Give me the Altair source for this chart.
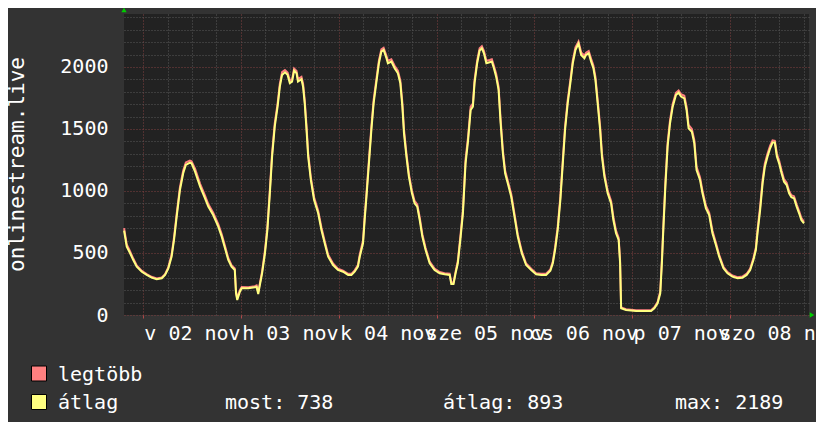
import altair as alt
import pandas as pd

# ---------------- data (hours since 2 Nov 00:00) ----------------
hours = [
    -4.65, -4.0, -3.2, -2.4, -1.55, -0.3, 0.9, 2.1, 3.35, 4.6, 5.4, 6.2, 7.0, 7.6, 8.25, 9.05,
    9.85, 10.5, 11.5, 11.9, 12.75, 14.0, 15.2, 16.0, 17.2, 18.45, 19.3, 20.1, 20.9, 21.7, 22.5,
    22.8, 23.1, 23.75, 24.2, 25.8, 27.4, 27.85, 28.25, 28.65, 29.2, 29.9, 30.5, 31.1, 31.65,
    32.3, 33.0, 33.55, 34.1, 34.8, 35.45, 36.0, 36.55, 37.05, 37.65, 38.0, 38.85, 39.25, 39.65,
    40.1, 40.5, 41.15, 41.95, 42.95, 43.75, 44.55, 45.4, 46.6, 47.8, 49.05, 50.3, 51.1, 51.9,
    52.7, 53.15, 53.95, 54.35, 54.8, 55.4, 56.0, 56.55, 57.2, 57.85, 58.45, 59.0, 59.7, 60.05,
    60.9, 61.7, 62.5, 63.1, 63.6, 64.0, 64.6, 65.2, 65.95, 66.6, 67.25, 67.85, 68.5, 69.3,
    70.3, 71.5, 72.75, 73.95, 75.2, 75.6, 76.15, 76.65, 77.2, 77.9, 78.45, 79.1, 79.7, 80.35,
    80.9, 81.3, 81.95, 82.55, 83.1, 83.6, 84.2, 85.0, 85.55, 86.05, 86.6, 87.2, 87.7, 88.25,
    88.8, 89.45, 90.3, 91.1, 91.9, 92.9, 93.95, 95.2, 96.4, 97.65, 98.85, 99.9, 100.5, 101.05,
    101.7, 102.35, 102.95, 103.5, 104.15, 104.8, 105.4, 106.05, 106.8, 107.45, 108.25, 108.65,
    109.3, 109.9, 110.45, 110.95, 111.5, 112.1, 112.55, 113.15, 113.95, 114.8, 115.35, 116.0,
    116.65, 117.0, 117.25, 118.45, 120.9, 124.6, 125.4, 126.2, 126.85, 127.25, 127.6, 128.1,
    128.65, 129.25, 129.9, 130.7, 131.35, 131.95, 132.75, 133.3, 133.8, 134.6, 135.2, 135.75,
    136.6, 137.2, 138.05, 138.85, 139.65, 140.5, 141.3, 142.35, 143.35, 144.55, 145.8, 147.0,
    148.05, 148.9, 149.7, 150.3, 150.7, 151.35, 151.95, 152.5, 153.15, 153.8, 154.4, 154.95,
    155.45, 156.0, 156.6, 157.2, 157.85, 158.45, 159.0, 159.65, 160.3, 160.9, 161.45, 162.1,
]

avg_vals = [
    680, 551, 500, 443, 390, 349, 323, 301, 288, 296, 323, 376, 470, 605, 793, 1008,
    1143, 1210, 1228, 1223, 1156, 1035, 941, 874, 806, 712, 632, 538, 444, 390, 363,
    177, 121, 188, 215, 215, 223, 228, 169, 242, 336, 497, 686, 981, 1277,
    1519, 1680, 1841, 1936, 1957, 1936, 1869, 1882, 1970, 1949, 1882, 1901, 1841, 1707,
    1492, 1277, 1089, 927, 820, 686, 578, 470, 403, 363, 349, 323, 323, 349,
    390, 470, 578, 766, 954, 1223, 1492, 1707, 1869, 2030, 2124, 2137, 2070, 2030,
    2043, 1990, 1949, 1869, 1680, 1465, 1277, 1115, 981, 900, 874, 766, 632, 524,
    417, 363, 336, 328, 323, 250, 250, 336, 417, 632, 820, 1223, 1400, 1653,
    1680, 1869, 2030, 2132, 2151, 2110, 2030, 2038, 2043, 1990, 1922, 1815, 1546, 1304,
    1143, 1062, 954, 793, 632, 497, 403, 363, 328, 323, 323, 357, 417, 524,
    686, 927, 1223, 1492, 1707, 1869, 2030, 2137, 2189, 2097, 2070, 2097,
    2110, 2043, 1990, 1895, 1707, 1492, 1277, 1115, 981, 900, 766, 659,
    605, 417, 54, 40, 32, 32, 54, 94, 175, 417, 686, 1035,
    1358, 1546, 1680, 1774, 1793, 1761, 1747, 1653, 1506, 1478, 1385, 1169,
    1089, 981, 860, 806, 659, 565, 470, 376, 336, 309, 296, 301,
    323, 363, 444, 524, 659, 847, 1062, 1196, 1277, 1344, 1390, 1390,
    1277, 1223, 1143, 1075, 1048, 981, 949, 941, 874, 820, 766, 738,
]

max_vals = [
    700, 570, 515, 455, 400, 356, 330, 308, 294, 302, 330, 386, 485, 625, 815, 1030,
    1165, 1230, 1245, 1240, 1180, 1058, 962, 895, 825, 732, 650, 556, 460, 402, 375,
    190, 135, 200, 225, 224, 232, 238, 185, 255, 352, 520, 712, 1010, 1305,
    1545, 1705, 1865, 1958, 1975, 1955, 1890, 1900, 1988, 1968, 1902, 1920, 1865, 1735,
    1522, 1305, 1112, 950, 840, 706, 596, 486, 415, 374, 358, 332, 332, 360,
    402, 488, 600, 792, 982, 1252, 1520, 1733, 1893, 2052, 2142, 2155, 2090, 2050,
    2062, 2010, 1970, 1892, 1710, 1495, 1302, 1138, 1002, 920, 892, 788, 652, 540,
    430, 374, 346, 337, 333, 265, 262, 350, 435, 658, 848, 1255, 1430, 1680,
    1705, 1892, 2052, 2150, 2168, 2130, 2050, 2056, 2062, 2010, 1945, 1840, 1575, 1330,
    1165, 1082, 975, 815, 652, 513, 415, 373, 337, 332, 333, 368, 432, 545,
    712, 955, 1252, 1520, 1733, 1893, 2052, 2158, 2205, 2118, 2090, 2115,
    2128, 2065, 2012, 1920, 1735, 1522, 1305, 1140, 1003, 920, 790, 680,
    622, 440, 62, 46, 38, 38, 62, 105, 192, 445, 715, 1065,
    1388, 1572, 1702, 1792, 1810, 1780, 1768, 1680, 1532, 1500, 1410, 1195,
    1110, 1003, 882, 825, 680, 582, 485, 388, 346, 318, 305, 310,
    333, 375, 460, 545, 685, 875, 1090, 1222, 1300, 1365, 1408, 1405,
    1300, 1245, 1165, 1095, 1066, 1000, 966, 958, 893, 838, 783, 752,
]

series_names = ["legtöbb", "átlag"]
series_colors = ["#FF8080", "#FFFF80"]
day_labels = ["v 02 nov", "h 03 nov", "k 04 nov", "sze 05 nov", "cs 06 nov", "p 07 nov", "szo 08 nov"]
stat_names = ["most", "átlag", "max"]
stat_values = [738, 893, 2189]
y_title = "onlinestream.live"

# ---------------- build tables ----------------
n = len(hours)
df = pd.DataFrame({
    "h": hours + hours,
    "v": max_vals + avg_vals,
    "s": [series_names[0]] * n + [series_names[1]] * n,
})
stats_df = pd.DataFrame({
    "k": stat_names,
    "label": [f"{k}: {v}" for k, v in zip(stat_names, stat_values)],
})
legend_df = pd.DataFrame({"s": series_names, "c": series_colors})

FONT = "DejaVu Sans Mono"
TXT = "#FFFFFF"
X_DOMAIN = [-4.67, 163.33]
Y_DOMAIN = [0, 2427]
PLOT_W, PLOT_H = 685, 301
MINOR = "#585858"
MAJOR = "#804040"

label_js = "[" + ",".join("'%s'" % l for l in day_labels) + "]"

x_axis = alt.Axis(
    values=list(range(0, 163, 6)),
    labelExpr=f"datum.value % 24 == 12 ? {label_js}[floor(datum.value / 24)] : ''",
    labelOverlap=False, labelBound=False, labelFlush=False,
    labelFont=FONT, labelFontSize=20, labelColor=TXT, labelPadding=5,
    grid=True, gridDash=[1, 2], gridWidth=1,
    gridColor={"condition": {"test": "datum.value % 24 == 0", "value": MAJOR}, "value": MINOR},
    ticks=True, tickSize=3,
    tickColor={"condition": {"test": "datum.value % 24 == 0", "value": "#b04848"}, "value": "rgba(0,0,0,0)"},
    domain=False, title=None,
)
y_axis = alt.Axis(
    values=list(range(0, 2401, 100)),
    labelExpr="datum.value % 500 == 0 ? datum.label : ''",
    labelOverlap=False, labelBound=False, labelFlush=False,
    labelFont=FONT, labelFontSize=20, labelColor=TXT, labelPadding=16,
    grid=True, gridDash=[1, 2], gridWidth=1,
    gridColor={"condition": {"test": "datum.value % 500 == 0", "value": MAJOR}, "value": MINOR},
    ticks=False, domain=False, format="d",
    title=y_title, titleFont=FONT, titleFontSize=21, titleFontWeight="normal", titleColor=TXT,
    titleAngle=270, titleAlign="center", titleBaseline="alphabetic", titleX=-101, titleY=150,
)

x_enc = alt.X("h:Q", scale=alt.Scale(domain=X_DOMAIN, nice=False, zero=False), axis=x_axis)
y_enc = alt.Y("v:Q", scale=alt.Scale(domain=Y_DOMAIN, nice=False), axis=y_axis)
color_scale = alt.Scale(domain=series_names, range=series_colors)

base = alt.Chart(df).encode(x=x_enc, y=y_enc)

line_max = base.transform_filter(alt.datum.s == series_names[0]).mark_line(strokeWidth=2).encode(
    color=alt.Color("s:N", scale=color_scale, legend=None))
line_avg = base.transform_filter(alt.datum.s == series_names[1]).mark_line(strokeWidth=2).encode(
    color=alt.Color("s:N", scale=color_scale, legend=None))

# ---------------- legend (drawn below the plot, rrdtool style) ----------------
legend_layers = []
for i, name in enumerate(series_names):
    legend_layers.append(
        alt.Chart(legend_df).transform_filter(alt.datum.s == name).mark_square(
            filled=True, size=225, opacity=1, stroke="#000000", strokeWidth=1
        ).encode(fill=alt.Fill("c:N", scale=None), x=alt.value(-85), y=alt.value(359.5 + 28.5 * i))
    )
    legend_layers.append(
        alt.Chart(legend_df).transform_filter(alt.datum.s == name).mark_text(
            align="left", baseline="alphabetic", font=FONT, fontSize=20, color=TXT
        ).encode(text="s:N", x=alt.value(-66), y=alt.value(366.5 + 28.5 * i))
    )

stat_x = [101, 319, 551]
stat_layers = []
for name, sx in zip(stat_names, stat_x):
    stat_layers.append(
        alt.Chart(stats_df).transform_filter(alt.datum.k == name).mark_text(
            align="left", baseline="alphabetic", font=FONT, fontSize=20, color=TXT
        ).encode(text="label:N", x=alt.value(sx), y=alt.value(395))
    )

arrow_df = pd.DataFrame({"a": [1]})
arrow_up = alt.Chart(arrow_df).mark_point(shape="triangle-up", filled=True, color="#00CC00", size=28, opacity=1).encode(
    x=alt.value(0), y=alt.value(-4))
arrow_right = alt.Chart(arrow_df).mark_point(shape="triangle-right", filled=True, color="#00CC00", size=28, opacity=1).encode(
    x=alt.value(688), y=alt.value(PLOT_H))

chart = alt.layer(line_max, line_avg, *legend_layers, *stat_layers, arrow_up, arrow_right).properties(
    width=PLOT_W, height=PLOT_H,
    autosize=alt.AutoSizeParams(type="none"),
    padding={"left": 116, "top": 6, "right": 7, "bottom": 107},
    background="#333333",
).configure_view(fill="#222222", stroke=None)

chart.save("out.html", embed_options={"renderer": "svg", "actions": False})
